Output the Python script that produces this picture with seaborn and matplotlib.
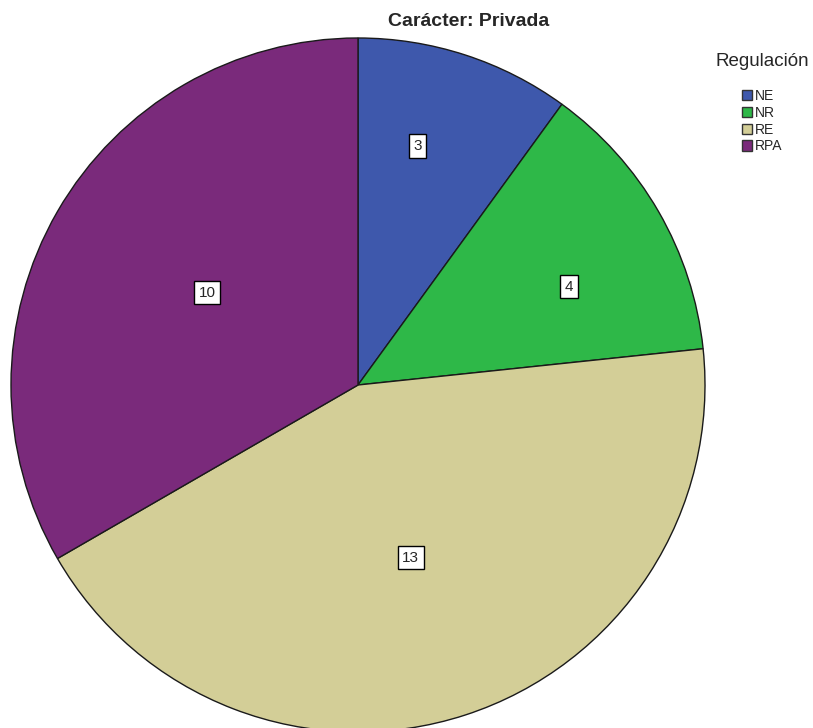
import numpy as np
import matplotlib
matplotlib.use("Agg")
import matplotlib.pyplot as plt
import matplotlib.patches as mpatches
import seaborn as sns

# data
categories = ["NE", "NR", "RE", "RPA"]
counts = [3, 4, 13, 10]
colors = ["#3E58AC", "#2EB848", "#D3CE97", "#7A2A7B"]
title = "Carácter: Privada"
legend_title = "Regulación"

sns.set_style("white")
plt.rcParams["font.family"] = ["Liberation Sans", "DejaVu Sans"]

W, H = 813, 728
fig = plt.figure(figsize=(W / 100, H / 100), dpi=100)

cx, cy, r = 358, 385, 347
ax = fig.add_axes([(cx - r) / W, (H - cy - r) / H, 2 * r / W, 2 * r / H])
wedges, _ = ax.pie(counts, colors=colors, startangle=90, counterclock=False,
                   wedgeprops=dict(edgecolor="#1a1a1a", linewidth=1.0), radius=1)
ax.set_xlim(-1, 1)
ax.set_ylim(-1, 1)
ax.set_aspect("equal")
ax.axis("off")

# value labels inside each slice (SPSS-like placement)
label_r = [0.71, 0.67, 0.52, 0.51]
label_dang = [4, -5, -1, -1.5]
for w, v, lr, da in zip(wedges, counts, label_r, label_dang):
    ang = np.deg2rad((w.theta1 + w.theta2) / 2 + da)
    ax.text(lr * np.cos(ang), lr * np.sin(ang), str(v), ha="center", va="center",
            fontsize=11, bbox=dict(boxstyle="square,pad=0.3", fc="white", ec="black", lw=1))

fig.text(469 / W, 1 - 22 / H, title, ha="center", va="center", fontsize=14, fontweight="bold")

# legend: title as separate text so the gap matches
fig.text(762 / W, 1 - 62 / H, legend_title, ha="center", va="center", fontsize=13.5)
handles = [mpatches.Patch(facecolor=c, edgecolor="#333333", label=l) for c, l in zip(colors, categories)]
fig.legend(handles=handles, loc="upper center",
           bbox_to_anchor=(762 / W, 1 - 82 / H), frameon=False, fontsize=10,
           handlelength=0.75, handleheight=0.75, handletextpad=0.15, labelspacing=0.2,
           borderpad=0)

fig.savefig("out.png", dpi=100)
